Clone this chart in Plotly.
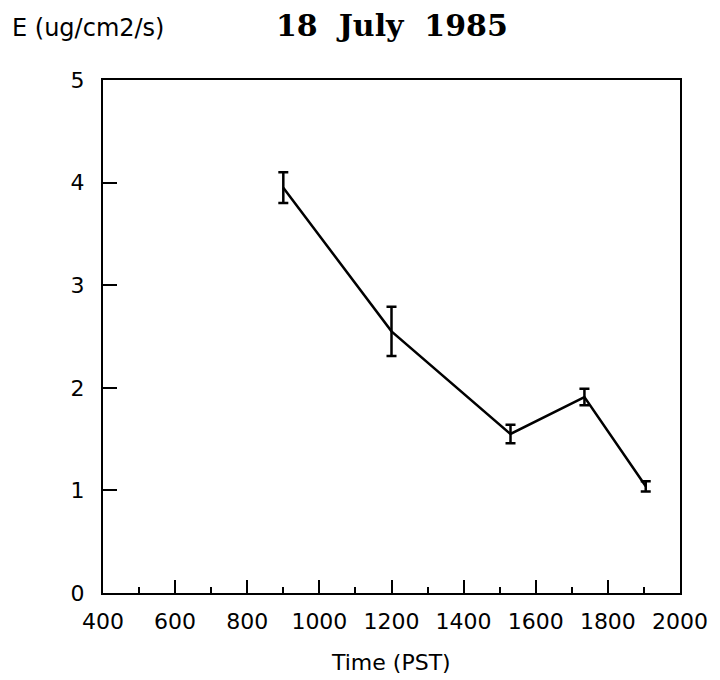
import plotly.graph_objects as go

# Emission rate measurements, 18 July 1985
time_pst = [900, 1200, 1530, 1735, 1905]
emission = [3.95, 2.55, 1.55, 1.91, 1.04]
emission_err = [0.15, 0.24, 0.09, 0.08, 0.05]

x_ticks = [400, 600, 800, 1000, 1200, 1400, 1600, 1800, 2000]
y_ticks = [0, 1, 2, 3, 4, 5]

sans = "DejaVu Sans"
serif = "DejaVu Serif"

fig = go.Figure()
fig.add_trace(go.Scatter(
    x=time_pst,
    y=emission,
    mode="lines",
    line=dict(color="black", width=2.5),
    error_y=dict(type="data", array=emission_err, visible=True,
                 color="black", thickness=2.5, width=5),
    showlegend=False,
))

fig.update_layout(
    width=720, height=680,
    margin=dict(l=103, r=37, t=80, b=87),
    paper_bgcolor="white", plot_bgcolor="white",
    font=dict(family=sans, size=22, color="black"),
    xaxis=dict(
        range=[400, 2000], tickvals=x_ticks, ticks="inside", ticklen=13,
        tickwidth=2, tickcolor="black", showgrid=False, zeroline=False,
        showline=True, linecolor="black", linewidth=2, mirror=True,
        minor=dict(ticks="inside", ticklen=6, tickwidth=2, dtick=100,
                   tickcolor="black", showgrid=False),
        tickfont=dict(family=sans, size=22), ticklabelstandoff=8,
    ),
    yaxis=dict(
        range=[0, 5], tickvals=y_ticks, ticks="inside", ticklen=14,
        tickwidth=2, tickcolor="black", showgrid=False, zeroline=False,
        showline=True, linecolor="black", linewidth=2, mirror=True,
        tickfont=dict(family=sans, size=22), ticklabelstandoff=12,
    ),
    annotations=[
        dict(text="<b>18  July  1985</b>", x=394, y=25, xref="paper", yref="paper",
             showarrow=False, font=dict(family=serif, size=30)),
        dict(text="E (ug/cm2/s)", x=10, y=28, xref="paper", yref="paper",
             xanchor="left", showarrow=False, font=dict(family=sans, size=24)),
        dict(text="Time (PST)", x=392, y=662, xref="paper", yref="paper",
             showarrow=False, font=dict(family=sans, size=22)),
    ],
)

# Place the free-standing labels in pixel coordinates
W, H = 720, 680
m = fig.layout.margin
pw, ph = W - m.l - m.r, H - m.t - m.b
for a in fig.layout.annotations:
    a.x = (a.x - m.l) / pw
    a.y = (H - m.b - a.y) / ph
    a.yanchor = "middle"
    if a.xanchor is None:
        a.xanchor = "center"

fig.write_html("out.html")
